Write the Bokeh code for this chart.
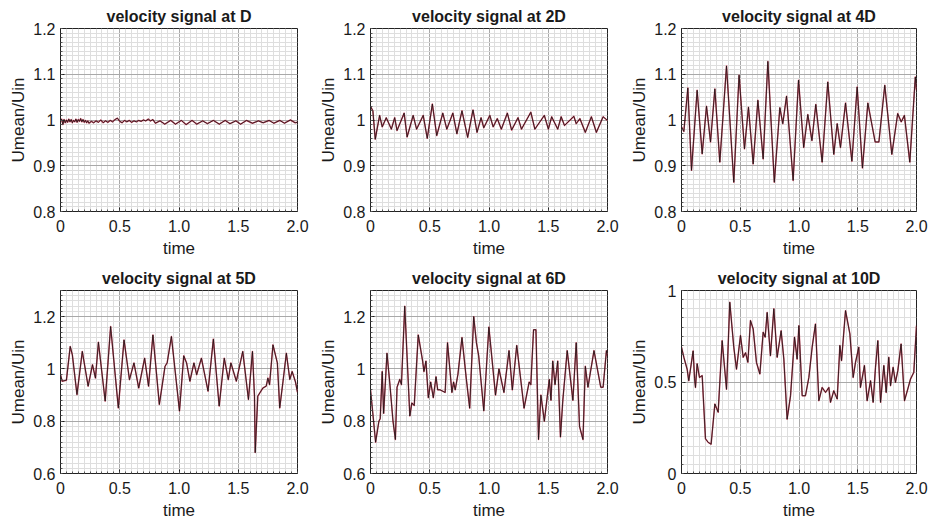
import numpy as np
from bokeh.plotting import figure
from bokeh.layouts import gridplot
from bokeh.models import FixedTicker
from bokeh.embed import file_html
from bokeh.resources import INLINE

# ---------------- data ----------------
titles = ["velocity signal at D", "velocity signal at 2D", "velocity signal at 4D",
          "velocity signal at 5D", "velocity signal at 6D", "velocity signal at 10D"]

x_ticks = [0, 0.5, 1.0, 1.5, 2.0]
x_tick_labels = ["0", "0.5", "1.0", "1.5", "2.0"]

t_D = [0.00, 0.01, 0.02, 0.03, 0.04, 0.05, 0.06, 0.07, 0.08, 0.09, 0.10, 0.11, 0.12, 0.13,
       0.14, 0.15, 0.16, 0.17, 0.18, 0.19, 0.20, 0.21, 0.22, 0.23, 0.24, 0.26, 0.28, 0.30,
       0.32, 0.34, 0.36, 0.38, 0.40, 0.42, 0.44, 0.46, 0.48, 0.50, 0.52, 0.54, 0.56, 0.58,
       0.60, 0.62, 0.64, 0.66, 0.68, 0.70, 0.72, 0.74, 0.76, 0.78, 0.80, 0.84, 0.88, 0.93,
       0.97, 1.02, 1.06, 1.11, 1.15, 1.20, 1.24, 1.29, 1.34, 1.39, 1.43, 1.48, 1.52, 1.57,
       1.62, 1.67, 1.71, 1.76, 1.80, 1.85, 1.89, 1.94, 1.98, 2.00]
u_D = [0.997, 1.002, 0.990, 1.001, 0.994, 1.000, 0.995, 1.002, 0.996, 1.001, 0.994, 0.999,
       0.996, 1.002, 0.995, 1.001, 0.997, 1.003, 0.996, 1.001, 0.995, 0.999, 0.994, 0.998,
       0.993, 0.997, 0.994, 0.998, 0.995, 1.000, 0.994, 0.998, 0.995, 0.999, 0.996, 1.001,
       1.004, 0.997, 0.994, 0.999, 0.996, 0.999, 0.995, 0.998, 0.996, 0.999, 0.997, 1.000,
       0.998, 1.002, 0.998, 1.001, 0.993, 0.998, 0.991, 0.999, 0.991, 0.999, 0.990, 0.999,
       0.991, 0.998, 0.992, 0.999, 0.991, 0.999, 0.992, 0.998, 0.991, 0.999, 0.993, 0.998,
       0.994, 0.999, 0.993, 0.999, 0.993, 1.000, 0.994, 0.995]

t_2D = [0.000, 0.020, 0.040, 0.077, 0.099, 0.133, 0.176, 0.204, 0.224, 0.284, 0.309, 0.360,
        0.389, 0.445, 0.479, 0.522, 0.559, 0.610, 0.644, 0.695, 0.729, 0.772, 0.820, 0.865,
        0.899, 0.933, 0.956, 1.007, 1.035, 1.070, 1.104, 1.155, 1.191, 1.245, 1.274, 1.353,
        1.387, 1.467, 1.501, 1.529, 1.580, 1.609, 1.637, 1.716, 1.736, 1.767, 1.813, 1.864,
        1.906, 1.963, 2.000]
u_2D = [1.030, 1.020, 0.958, 1.010, 0.985, 1.005, 0.980, 1.005, 0.977, 1.015, 0.963, 1.010,
        0.980, 1.010, 0.960, 1.035, 0.966, 1.015, 0.980, 1.015, 0.970, 1.020, 0.962, 1.022,
        0.973, 1.005, 0.983, 1.010, 0.985, 1.003, 0.980, 1.015, 0.978, 1.005, 0.980, 1.017,
        0.980, 1.010, 0.980, 1.007, 0.980, 1.007, 0.988, 1.008, 0.992, 1.003, 0.973, 1.007,
        0.973, 1.007, 0.999]

t_4D = [0.000, 0.020, 0.054, 0.085, 0.133, 0.176, 0.213, 0.247, 0.284, 0.326, 0.383, 0.445,
        0.490, 0.536, 0.570, 0.610, 0.650, 0.695, 0.735, 0.790, 0.837, 0.862, 0.894, 0.950,
        0.996, 1.040, 1.075, 1.110, 1.143, 1.197, 1.245, 1.296, 1.325, 1.353, 1.396, 1.450,
        1.495, 1.540, 1.586, 1.648, 1.680, 1.730, 1.790, 1.840, 1.870, 1.897, 1.943, 1.990,
        2.000]
u_4D = [0.985, 0.975, 1.070, 0.890, 1.065, 0.926, 1.030, 0.952, 1.068, 0.908, 1.118, 0.864,
        1.098, 0.937, 1.028, 0.904, 1.043, 0.915, 1.128, 0.864, 1.027, 0.992, 1.052, 0.868,
        1.087, 0.940, 1.012, 0.955, 1.034, 0.908, 1.083, 0.925, 0.992, 0.940, 1.037, 0.910,
        1.072, 0.895, 1.037, 0.952, 0.952, 1.076, 0.925, 1.014, 0.996, 1.010, 0.908, 1.094,
        1.065]

t_5D = [0.000, 0.014, 0.050, 0.082, 0.100, 0.139, 0.184, 0.233, 0.270, 0.295, 0.320, 0.377,
        0.423, 0.488, 0.536, 0.582, 0.620, 0.660, 0.710, 0.743, 0.780, 0.834, 0.882, 0.900,
        0.936, 1.004, 1.040, 1.064, 1.092, 1.126, 1.149, 1.189, 1.245, 1.290, 1.339, 1.382,
        1.416, 1.438, 1.484, 1.538, 1.586, 1.620, 1.637, 1.643, 1.665, 1.708, 1.736, 1.750,
        1.764, 1.793, 1.830, 1.850, 1.878, 1.906, 1.935, 1.955, 1.983, 2.000]
u_5D = [0.978, 0.953, 0.957, 1.086, 1.054, 0.902, 1.067, 0.934, 1.016, 0.965, 1.102, 0.877,
        1.162, 0.851, 1.111, 0.959, 1.023, 0.927, 1.041, 0.934, 1.130, 0.864, 1.010, 1.023,
        1.124, 0.839, 1.050, 1.023, 0.953, 1.023, 0.978, 1.041, 0.915, 1.114, 0.858, 1.041,
        0.959, 1.023, 0.953, 1.067, 0.883, 1.067, 0.896, 0.680, 0.896, 0.927, 0.934, 0.965,
        0.940, 1.092, 1.023, 0.851, 0.953, 1.060, 0.960, 0.990, 0.950, 0.910]

t_6D = [0.000, 0.026, 0.043, 0.071, 0.082, 0.099, 0.111, 0.139, 0.162, 0.190, 0.210, 0.224,
        0.247, 0.261, 0.289, 0.332, 0.349, 0.369, 0.403, 0.440, 0.451, 0.468, 0.488, 0.508,
        0.530, 0.553, 0.567, 0.587, 0.630, 0.650, 0.687, 0.701, 0.715, 0.738, 0.772, 0.809,
        0.837, 0.871, 0.894, 0.913, 0.956, 0.999, 1.055, 1.084, 1.126, 1.169, 1.197, 1.234,
        1.296, 1.339, 1.353, 1.376, 1.396, 1.418, 1.438, 1.467, 1.509, 1.523, 1.538, 1.557,
        1.580, 1.603, 1.623, 1.660, 1.708, 1.736, 1.764, 1.793, 1.813, 1.835, 1.886, 1.943,
        1.963, 1.991, 2.000]
u_6D = [0.92, 0.80, 0.72, 0.80, 0.81, 0.99, 0.83, 1.06, 0.95, 0.80, 0.73, 0.93,
        0.96, 0.94, 1.24, 0.82, 0.87, 0.86, 1.13, 1.03, 0.99, 1.03, 0.89, 0.95,
        0.89, 0.97, 0.92, 0.92, 0.91, 1.10, 0.91, 0.95, 0.92, 0.98, 1.12, 0.96,
        0.85, 1.20, 1.10, 1.05, 0.84, 1.16, 0.90, 1.00, 0.91, 1.07, 0.92, 1.09,
        0.85, 0.95, 0.94, 1.15, 1.15, 0.73, 0.90, 0.80, 0.96, 0.88, 1.03, 0.94,
        1.03, 0.74, 0.88, 1.07, 0.88, 1.10, 0.78, 0.73, 1.01, 0.93, 1.07, 0.93,
        0.93, 1.07, 1.05]

t_10D = [0.000, 0.020, 0.048, 0.062, 0.099, 0.111, 0.119, 0.133, 0.153, 0.176, 0.204, 0.227,
         0.252, 0.284, 0.312, 0.346, 0.383, 0.411, 0.445, 0.468, 0.502, 0.525, 0.545, 0.565,
         0.587, 0.610, 0.638, 0.667, 0.695, 0.712, 0.729, 0.757, 0.786, 0.814, 0.848, 0.871,
         0.899, 0.928, 0.962, 0.984, 0.999, 1.027, 1.055, 1.084, 1.112, 1.140, 1.169, 1.197,
         1.226, 1.254, 1.268, 1.296, 1.325, 1.348, 1.362, 1.396, 1.433, 1.461, 1.481, 1.509,
         1.523, 1.557, 1.580, 1.609, 1.631, 1.651, 1.671, 1.694, 1.722, 1.742, 1.764, 1.779,
         1.801, 1.821, 1.841, 1.869, 1.898, 1.926, 1.949, 1.977, 2.000]
u_10D = [0.690, 0.635, 0.570, 0.507, 0.670, 0.520, 0.470, 0.600, 0.525, 0.535, 0.190, 0.170,
         0.160, 0.380, 0.335, 0.726, 0.460, 0.936, 0.690, 0.570, 0.754, 0.635, 0.660, 0.608,
         0.836, 0.790, 0.607, 0.544, 0.772, 0.745, 0.880, 0.644, 0.900, 0.635, 0.780, 0.625,
         0.297, 0.425, 0.745, 0.625, 0.808, 0.425, 0.425, 0.525, 0.690, 0.817, 0.398, 0.470,
         0.443, 0.470, 0.389, 0.452, 0.407, 0.700, 0.617, 0.890, 0.763, 0.525, 0.608, 0.690,
         0.470, 0.590, 0.398, 0.507, 0.389, 0.580, 0.726, 0.389, 0.590, 0.443, 0.635, 0.480,
         0.580, 0.498, 0.562, 0.708, 0.398, 0.462, 0.516, 0.553, 0.808]

times = [t_D, t_2D, t_4D, t_5D, t_6D, t_10D]
signals = [u_D, u_2D, u_4D, u_5D, u_6D, u_10D]

y_ranges = [(0.8, 1.2), (0.8, 1.2), (0.8, 1.2), (0.6, 1.3), (0.6, 1.3), (0.0, 1.0)]
y_ticks = [[0.8, 0.9, 1.0, 1.1, 1.2]] * 3 + [[0.6, 0.8, 1.0, 1.2]] * 2 + [[0.0, 0.5, 1.0]]
y_tick_labels = [["0.8", "0.9", "1", "1.1", "1.2"]] * 3 + [["0.6", "0.8", "1", "1.2"]] * 2 + [["0", "0.5", "1"]]
y_minor_step = [0.01, 0.01, 0.01, 0.02, 0.02, 0.05]

# ---------------- styling / layout ----------------
FONT = "Liberation Sans"
TXT = "#1a1a1a"
widths = [310, 310, 312]
heights = [262, 262]
left_b = [60, 60, 61]
right_b = [13, 13, 16]
top_b = [28, 28]
bottom_b = [51, 51]

figs = []
for i in range(6):
    r, c = divmod(i, 3)
    y0, y1 = y_ranges[i]
    p = figure(width=widths[c], height=heights[r], output_backend="svg", toolbar_location=None,
               x_range=(0, 2), y_range=(y0, y1), title=titles[i],
               min_border_left=left_b[c], min_border_right=right_b[c],
               min_border_top=top_b[r], min_border_bottom=bottom_b[r])
    p.title.align = "center"
    p.title.text_font = FONT
    p.title.text_font_size = "16px"
    p.title.text_font_style = "bold"
    p.title.text_color = TXT
    p.title.standoff = 7
    p.title.offset = 0

    x_minor = [round(v, 3) for v in np.arange(0, 2.0001, 0.05)]
    nstep = int(round((y1 - y0) / y_minor_step[i]))
    y_minor = [round(y0 + k * y_minor_step[i], 4) for k in range(nstep + 1)]
    p.xaxis.ticker = FixedTicker(ticks=x_ticks, minor_ticks=x_minor)
    p.yaxis.ticker = FixedTicker(ticks=y_ticks[i], minor_ticks=y_minor)
    p.xaxis.major_label_overrides = dict(zip(x_ticks, x_tick_labels))
    p.yaxis.major_label_overrides = dict(zip(y_ticks[i], y_tick_labels[i]))

    for ax in (p.xaxis, p.yaxis):
        ax.major_label_text_font = FONT
        ax.major_label_text_font_size = "16px"
        ax.major_label_text_color = TXT
        ax.axis_label_text_font = FONT
        ax.axis_label_text_font_size = "17px"
        ax.axis_label_text_font_style = "normal"
        ax.axis_label_text_color = TXT
        ax.axis_line_color = "#222222"
        ax.major_tick_line_color = "#222222"
        ax.minor_tick_line_color = "#555555"
        ax.major_tick_in = 4
        ax.major_tick_out = 0
        ax.minor_tick_in = 2
        ax.minor_tick_out = 0
    p.xaxis.axis_label = "time"
    p.yaxis.axis_label = "Umean/Uin"
    p.xaxis.major_label_standoff = 8
    p.xaxis.axis_label_standoff = 4
    p.yaxis.major_label_standoff = 5
    p.yaxis.axis_label_standoff = 2

    for g in (p.xgrid, p.ygrid):
        g.grid_line_color = "#a9a9a9"
        g.grid_line_width = 1
        g.minor_grid_line_color = "#dedede"
        g.minor_grid_line_width = 1

    p.outline_line_color = "#222222"
    p.outline_line_width = 1
    p.background_fill_color = "white"
    p.border_fill_color = "white"

    p.line(times[i], signals[i], line_color="#c81e3c", line_width=1.5, line_alpha=0.75,
           line_join="round")
    p.line(times[i], signals[i], line_color="#111111", line_width=0.8, line_join="round")
    figs.append(p)

grid = gridplot([figs[0:3], figs[3:6]], toolbar_location=None)
open("out.html", "w").write(file_html(grid, INLINE))
